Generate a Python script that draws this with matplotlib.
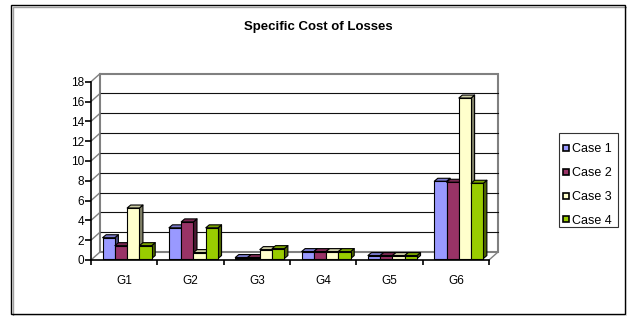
"""Specific Cost of Losses - grafico de colunas estilo Excel 3D."""
import matplotlib

matplotlib.use("Agg")
import matplotlib.pyplot as plt
from matplotlib.lines import Line2D
from matplotlib.patches import Polygon, Rectangle

plt.rcParams["font.family"] = ["Liberation Sans", "DejaVu Sans"]

categories = ["G1", "G2", "G3", "G4", "G5", "G6"]
series_names = ["Case 1", "Case 2", "Case 3", "Case 4"]
case1 = [2.1, 3.1, 0.1, 0.7, 0.3, 7.8]
case2 = [1.3, 3.7, 0.1, 0.7, 0.3, 7.7]
case3 = [5.1, 0.6, 0.9, 0.7, 0.3, 16.2]
case4 = [1.3, 3.1, 1.0, 0.7, 0.3, 7.6]
y_ticks = [0, 2, 4, 6, 8, 10, 12, 14, 16, 18]

front_colors = ["#9999FF", "#993366", "#FFFFCC", "#99CC00"]

W, H = 627, 316
# profundidade da parede e das barras (unidades de dados)
WALL_DX, WALL_DY = 0.136, 0.81
BAR_DX, BAR_DY = 0.053, 0.30
BAR_W = 0.185
GROUP_START = 0.175
SHIFT_Y = 0.15


def _shade(hex_color, f):
    r, g, b = matplotlib.colors.to_rgb(hex_color)
    return (r * f, g * f, b * f)


def _draw_walls(ax, n):
    ymax = y_ticks[-1]
    kw = dict(clip_on=False, zorder=1)
    # parede do fundo
    ax.add_patch(Rectangle((WALL_DX, WALL_DY), n, ymax, facecolor="white",
                           edgecolor="#808080", lw=1.5, **kw))
    for t in y_ticks[1:-1]:
        ax.plot([WALL_DX, n + WALL_DX], [t + WALL_DY, t + WALL_DY],
                color="#111111", lw=0.8, **kw)
    # parede lateral (diagonais)
    for t in y_ticks:
        ax.plot([0, WALL_DX], [t, t + WALL_DY], color="#808080", lw=1.0, **kw)
    # piso
    ax.plot([n, n + WALL_DX], [0, WALL_DY], color="#808080", lw=1.0, **kw)


def _draw_bar(ax, x0, v, color, z):
    y0 = SHIFT_Y
    y1 = y0 + v
    x1 = x0 + BAR_W
    kw = dict(clip_on=False, edgecolor="black", lw=0.8, joinstyle="round")
    side = Polygon([(x1, y0), (x1 + BAR_DX, y0 + BAR_DY),
                    (x1 + BAR_DX, y1 + BAR_DY), (x1, y1)],
                   facecolor=_shade(color, 0.5), zorder=z, **kw)
    top = Polygon([(x0, y1), (x1, y1), (x1 + BAR_DX, y1 + BAR_DY),
                   (x0 + BAR_DX, y1 + BAR_DY)],
                  facecolor=_shade(color, 0.8), zorder=z, **kw)
    front = Rectangle((x0, y0), BAR_W, v, facecolor=color, zorder=z + 0.001, **kw)
    for p in (side, top, front):
        ax.add_patch(p)


def main():
    fig = plt.figure(figsize=(W / 100, H / 100), dpi=100)
    fig.patch.set_facecolor("white")

    ax = fig.add_axes([91 / W, 1 - 260 / H, 398 / W, 178.3 / H])
    ax.patch.set_visible(False)
    n = len(categories)
    ax.set_xlim(0, n)
    ax.set_ylim(0, y_ticks[-1])

    _draw_walls(ax, n)

    values = [case1, case2, case3, case4]
    for i in range(n):
        for j, serie in enumerate(values):
            x0 = i + GROUP_START + j * BAR_W
            _draw_bar(ax, x0, serie[i], front_colors[j], 3 + j * 0.01)

    # eixos
    for s in ("top", "right"):
        ax.spines[s].set_visible(False)
    for s in ("left", "bottom"):
        ax.spines[s].set_linewidth(1.2)
        ax.spines[s].set_zorder(5)
    ax.set_yticks(y_ticks)
    ax.set_yticklabels([str(t) for t in y_ticks])
    ax.tick_params(axis="y", length=4, width=1.2, pad=1, labelsize=8.5)
    ax.set_xticks(range(n + 1))
    ax.set_xticklabels([])
    ax.tick_params(axis="x", which="major", length=3.5, width=1.2)
    ax.set_xticks([i + 0.5 for i in range(n)], minor=True)
    ax.set_xticklabels(categories, minor=True)
    ax.tick_params(axis="x", which="minor", length=0, pad=11, labelsize=8.5)

    fig.text(318 / W, 1 - 27 / H, "Specific Cost of Losses", ha="center",
             va="center", fontsize=9.5, fontweight="bold")

    handles = [Line2D([], [], marker="s", linestyle="none", markersize=5,
                      markerfacecolor=c, markeredgecolor="black",
                      markeredgewidth=1.2) for c in front_colors]
    fig.legend(handles, series_names, loc="upper left",
               bbox_to_anchor=(562 / W, 1 - 143.4 / H), fontsize=9,
               frameon=False, labelspacing=0.94, handlelength=0.6,
               handletextpad=0.2, borderpad=0, borderaxespad=0)
    # caixa da legenda
    fig.add_artist(Rectangle((559 / W, 1 - 227 / H), 59 / W, 94 / H,
                             transform=fig.transFigure, fill=False,
                             edgecolor="#333333", lw=0.8))

    # moldura externa com sombra
    fig.add_artist(Rectangle((12.5 / W, 1 - 315.5 / H), 614 / W, 309 / H,
                             transform=fig.transFigure, fill=False,
                             edgecolor="#a0a0a0", lw=1.0))
    fig.add_artist(Rectangle((11 / W, 1 - 314 / H), 614 / W, 309 / H,
                             transform=fig.transFigure, fill=False,
                             edgecolor="black", lw=1.0))

    fig.savefig("out.png", dpi=100)
    plt.close(fig)


if __name__ == "__main__":
    main()
